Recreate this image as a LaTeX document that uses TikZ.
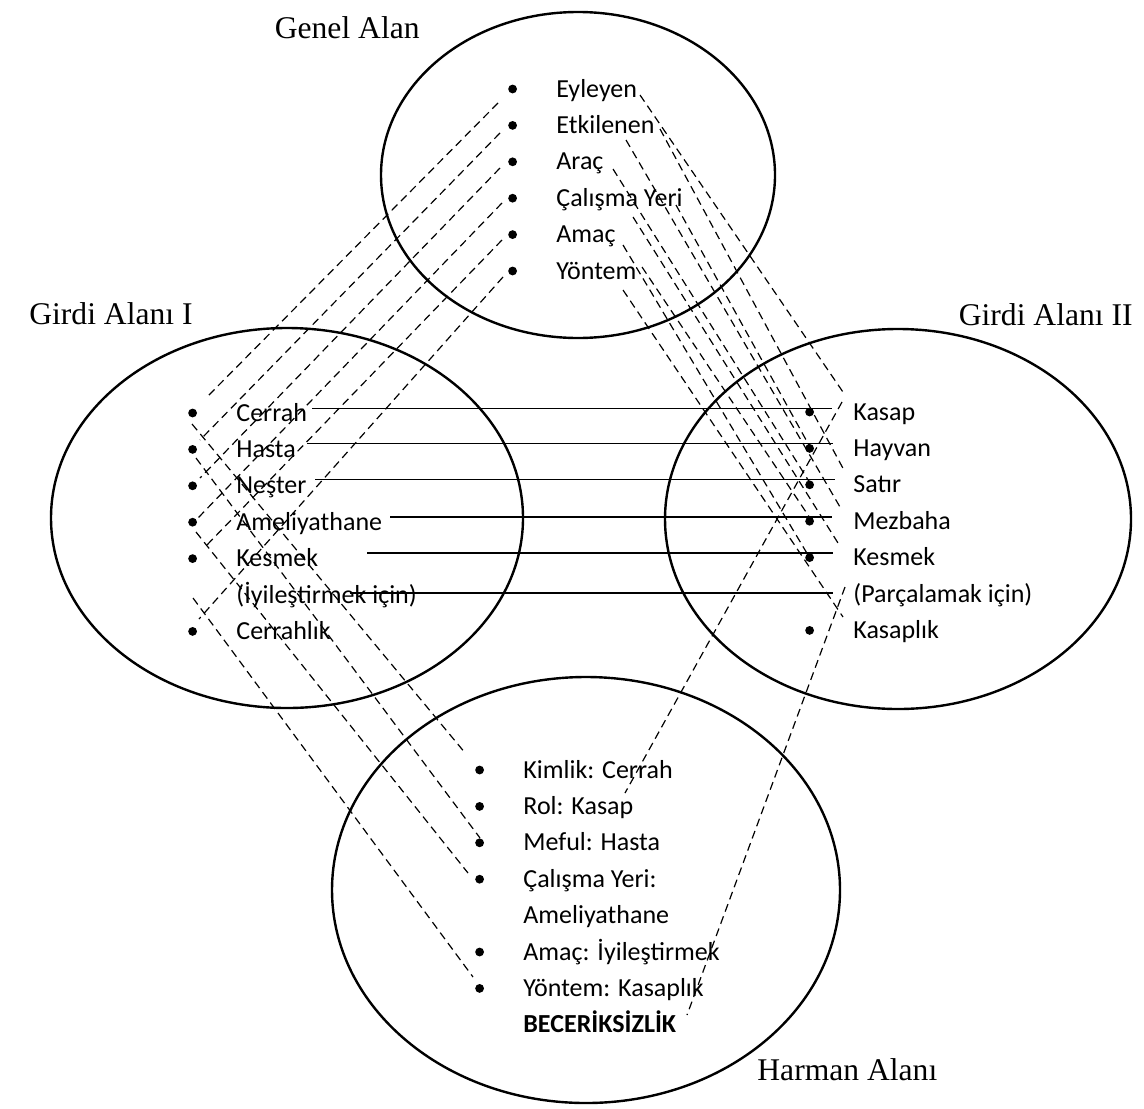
\documentclass[tikz,border=0pt]{standalone}
\usepackage{fontspec}
\setmainfont{Carlito}
\newfontfamily\titlefont{Liberation Serif}
\usetikzlibrary{positioning,shapes.geometric}
\tikzset{zone/.style={ellipse, draw=black, line width=1.2pt, inner sep=0pt},
  item/.style={font=\fontsize{13pt}{15pt}\selectfont, inner sep=0pt, text height=10pt, text depth=2pt},
  dot/.style={circle, fill=black, inner sep=0pt, minimum size=4.4pt},
  bullet/.style={item, label={[dot, xshift=-19.3pt]left:{}}},
  title/.style={font=\titlefont\fontsize{15.8pt}{18pt}\selectfont, inner sep=0pt},
  link/.style={line width=0.6pt, dash pattern=on 4pt off 2.5pt},
  tie/.style={line width=0.6pt},}

\begin{document}
\begin{tikzpicture}[x=0.5pt, y=-0.5pt, node distance=18.2pt]
\useasboundingbox (0,0) rectangle (1144,1108);

% the four spaces
\node[zone, minimum width=197pt, minimum height=163pt] (genel) at (578,175) {};
\node[zone, minimum width=236pt, minimum height=190pt] (girdi1) at (287,518) {};
\node[zone, minimum width=233pt, minimum height=190pt] (girdi2) at (898,519) {};
\node[zone, minimum width=254pt, minimum height=213pt] (harman) at (586,890) {};

\node[title, anchor=base east] (tgenel) at (420,38) {Genel Alan};
\node[title, anchor=base east] (tgirdi1) at (193,324) {Girdi Alanı I};
\node[title, anchor=base east] (tgirdi2) at (1133,325) {Girdi Alanı II};
\node[title, anchor=base west] (tharman) at (757,1080) {Harman Alanı};

% Genel Alan
\node[bullet, anchor=west] (ge1) at (556,89) {Eyleyen};
\node[bullet] (ge2) [below=of ge1.west, anchor=west] {Etkilenen};
\node[bullet] (ge3) [below=of ge2.west, anchor=west] {Araç};
\node[bullet] (ge4) [below=of ge3.west, anchor=west] {Çalışma Yeri};
\node[bullet] (ge5) [below=of ge4.west, anchor=west] {Amaç};
\node[bullet] (ge6) [below=of ge5.west, anchor=west] {Yöntem};

% Girdi Alani I
\node[bullet, anchor=west] (gi1) at (236,413) {Cerrah};
\node[bullet] (gi2) [below=of gi1.west, anchor=west] {Hasta};
\node[bullet] (gi3) [below=of gi2.west, anchor=west] {Neşter};
\node[bullet] (gi4) [below=of gi3.west, anchor=west] {Ameliyathane};
\node[bullet] (gi5) [below=of gi4.west, anchor=west] {Kesmek};
\node[item] (gi6) [below=of gi5.west, anchor=west] {(İyileştirmek için)};
\node[bullet] (gi7) [below=of gi6.west, anchor=west] {Cerrahlık};

% Girdi Alani II
\node[bullet, anchor=west] (gii1) at (853,412) {Kasap};
\node[bullet] (gii2) [below=of gii1.west, anchor=west] {Hayvan};
\node[bullet] (gii3) [below=of gii2.west, anchor=west] {Satır};
\node[bullet] (gii4) [below=of gii3.west, anchor=west] {Mezbaha};
\node[bullet] (gii5) [below=of gii4.west, anchor=west] {Kesmek};
\node[item] (gii6) [below=of gii5.west, anchor=west] {(Parçalamak için)};
\node[bullet] (gii7) [below=of gii6.west, anchor=west] {Kasaplık};

% Harman Alani
\node[bullet, anchor=west] (ha1) at (523,770) {Kimlik: Cerrah};
\node[bullet] (ha2) [below=of ha1.west, anchor=west] {Rol: Kasap};
\node[bullet] (ha3) [below=of ha2.west, anchor=west] {Meful: Hasta};
\node[bullet] (ha4) [below=of ha3.west, anchor=west] {Çalışma Yeri:};
\node[item] (ha5) [below=of ha4.west, anchor=west] {Ameliyathane};
\node[bullet] (ha6) [below=of ha5.west, anchor=west] {Amaç: İyileştirmek};
\node[bullet] (ha7) [below=of ha6.west, anchor=west] {Yöntem: Kasaplık};
\node[item] (ha8) [below=of ha7.west, anchor=west] {\bfseries BECERİKSİZLİK};

% tips of the links
\coordinate (ge1l) at (498,103); \coordinate (gi1t) at (207,397);
\coordinate (ge2l) at (500,133); \coordinate (gi2t) at (200,440);
\coordinate (ge3l) at (500,168); \coordinate (gi3t) at (200,478);
\coordinate (ge4l) at (502,203); \coordinate (gi4t) at (198,518);
\coordinate (ge5l) at (502,240); \coordinate (gi5t) at (205,547);
\coordinate (ge6l) at (503,277); \coordinate (gi7t) at (199,619);

\coordinate (ge1r) at (640,95);  \coordinate (gii1t) at (845,395);
\coordinate (ge2r) at (660,129); \coordinate (gii3t) at (845,472);
\coordinate (ge2s) at (626,140); \coordinate (gii4t) at (840,507);
\coordinate (ge3r) at (613,169); \coordinate (gii3d) at (810,483);
\coordinate (ge4r) at (676,205); \coordinate (gii2d) at (810,447);
\coordinate (ge4s) at (633,217); \coordinate (gii5t) at (838,543);
\coordinate (ge5r) at (623,245); \coordinate (gii5d) at (808,555);
\coordinate (ge6r) at (642,267); \coordinate (gii4d) at (810,518);
\coordinate (ge6s) at (623,290); \coordinate (gii7t) at (843,617);

\coordinate (gi1b) at (192,424); \coordinate (ha1t) at (466,754);
\coordinate (gi2b) at (196,458); \coordinate (ha3d) at (480,838);
\coordinate (gi4b) at (196,532); \coordinate (ha4t) at (468,873);
\coordinate (gi6b) at (193,598); \coordinate (ha7t) at (473,977);
\coordinate (gii1b) at (842,402); \coordinate (ha2t) at (625,793);
\coordinate (gii6b) at (845,587); \coordinate (ha8t) at (687,1015);

\coordinate (gi1r) at (312,408.5); \coordinate (gii1l) at (832,408.5);
\coordinate (gi2r) at (307,443.5); \coordinate (gii2l) at (833,443.5);
\coordinate (gi3r) at (315,479.5); \coordinate (gii3l) at (835,479.5);
\coordinate (gi4r) at (390,517);   \coordinate (gii4l) at (832,517);
\coordinate (gi5r) at (367,553);   \coordinate (gii5l) at (833,553);
\coordinate (gi6r) at (350,593);   \coordinate (gii6l) at (833,593);

% Genel -> Girdi I
\draw[link] (ge1l) -- (gi1t);
\draw[link] (ge2l) -- (gi2t);
\draw[link] (ge3l) -- (gi3t);
\draw[link] (ge4l) -- (gi4t);
\draw[link] (ge5l) -- (gi5t);
\draw[link] (ge6l) -- (gi7t);

% Genel -> Girdi II
\draw[link] (ge1r) -- (gii1t);
\draw[link] (ge2r) -- (gii3t);
\draw[link] (ge2s) -- (gii4t);
\draw[link] (ge3r) -- (gii3d);
\draw[link] (ge4r) -- (gii2d);
\draw[link] (ge4s) -- (gii5t);
\draw[link] (ge5r) -- (gii5d);
\draw[link] (ge6r) -- (gii4d);
\draw[link] (ge6s) -- (gii7t);

% Girdi I / II -> Harman
\draw[link] (gi1b) -- (ha1t);
\draw[link] (gi2b) -- (ha3d);
\draw[link] (gi4b) -- (ha4t);
\draw[link] (gi6b) -- (ha7t);
\draw[link] (gii1b) -- (ha2t);
\draw[link] (gii6b) -- (ha8t);

% Girdi I -- Girdi II
\draw[tie] (gi1r) -- (gii1l);
\draw[tie] (gi2r) -- (gii2l);
\draw[tie] (gi3r) -- (gii3l);
\draw[tie] (gi4r) -- (gii4l);
\draw[tie] (gi5r) -- (gii5l);
\draw[tie] (gi6r) -- (gii6l);
\end{tikzpicture}
\end{document}
